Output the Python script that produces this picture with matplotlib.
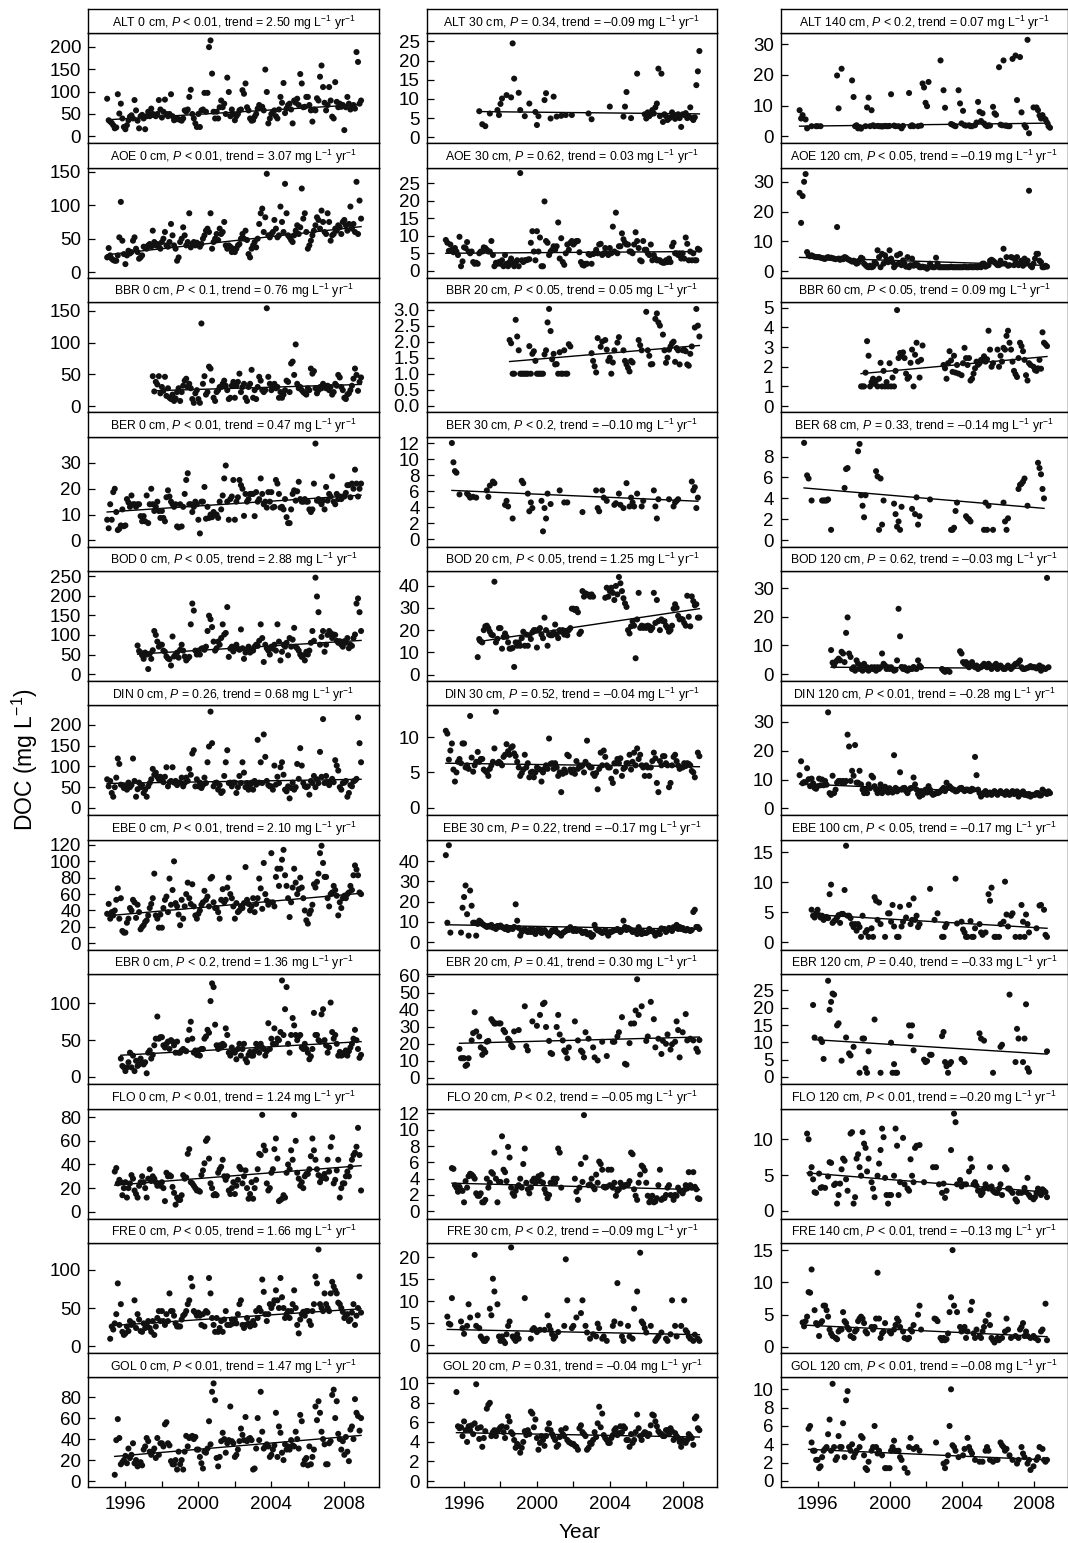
import matplotlib.pyplot as plt
import numpy as np

plt.rcParams["font.family"] = ["Liberation Sans", "DejaVu Sans"]
plt.rcParams["mathtext.fontset"] = "custom"
plt.rcParams["mathtext.rm"] = "Liberation Sans"
plt.rcParams["mathtext.it"] = "Liberation Sans:italic"

na = np.nan
FIRST_YEAR = 1995

# monthly DOC values (mg/L), one row per year 1995..2008, 12 months each
alt_0 = [
    [84, 36, 33, 30, 25, 18, 20, 94, 51, 73, 40, 21],
    [16, 25, 36, 44, 47, 40, 81, 58, 35, 18, 45, 48],
    [40, 16, 45, 55, 45, 62, 50, 48, 45, 50, 81, 60],
    [42, 55, 82, 50, 45, 50, 94, 45, 36, 38, 40, 38],
    [37, 35, 40, 58, 55, 60, 88, 104, 50, 40, 29, 21],
    [50, 21, 58, 60, 97, 55, 97, 199, 214, 140, 55, 40],
    [55, 40, 65, 80, 65, 73, 50, 131, 99, 45, 60, 50],
    [36, 45, 50, 58, 60, 103, 95, 118, 65, 58, 40, 35],
    [36, 44, 50, 62, 70, 65, 66, 58, 149, 99, 29, 40],
    [50, 55, 58, 45, 40, 60, 88, 75, 119, 52, 62, 70],
    [73, 60, 29, 80, 75, 84, 70, 139, 118, 65, 66, 88],
    [88, 70, 58, 33, 60, 58, 85, 80, 133, 158, 110, 75],
    [58, 70, 110, 80, 44, 40, 121, 77, 65, 73, 66, 70],
    [14, 65, 88, 73, 60, 66, 70, 62, 188, 166, 73, 80],
]
alt_30 = [
    [na, na, na, na, na, na, na, na, na, na, na, na],
    [na, na, na, na, na, na, na, na, na, na, 6.8, na],
    [3.4, na, 2.9, na, na, 6.2, na, na, na, na, 7.1, 5.8],
    [8.7, 10.1, na, na, 11.0, na, na, 10.4, 24.5, 15.3, na, na],
    [11.6, 7.1, na, na, 5.5, na, na, 8.8, na, na, na, 6.6],
    [3.2, 5.5, na, na, na, 9.7, 11.5, na, na, 4.9, na, 10.6],
    [na, 5.4, na, na, 5.6, na, na, 5.8, na, na, na, 5.8],
    [na, na, na, na, na, na, na, na, na, na, 6.2, na],
    [4.7, na, na, na, na, na, na, na, na, na, na, na],
    [8.0, na, na, na, na, na, na, na, na, 5.4, 8.0, 11.8],
    [na, na, 5.0, na, na, na, 16.6, na, na, na, na, 6.0],
    [4.9, 6.5, 5.5, 6.0, 7.1, 6.2, 7.8, 8.8, 17.9, 5.5, 16.6, 4.0],
    [6.0, 5.5, 4.5, 4.9, 5.2, 6.5, 5.8, 4.8, 5.8, 6.0, 5.0, 2.7],
    [6.0, 5.8, 6.3, 5.0, 5.4, 7.8, 5.0, 4.5, 5.2, 13.6, 17.2, 22.5],
]
alt_140 = [
    [8.5, 5.8, 6.9, na, 5.5, 2.6, na, na, 3.3, na, na, 3.3],
    [3.3, na, 3.3, na, na, na, na, na, na, na, na, na],
    [na, 19.8, 9.1, na, 22.0, na, na, na, na, na, na, 18.2],
    [12.8, 3.3, 3.6, 2.6, 3.0, 2.5, na, na, 3.3, 9.4, 12.6, 3.3],
    [8.5, 3.6, 3.3, na, 3.4, 3.3, 3.3, 3.2, 3.3, 3.4, 3.3, 3.3],
    [3.4, 13.7, na, 3.5, 3.3, na, 3.3, na, 2.6, 3.4, na, na],
    [na, 14.1, 3.3, 3.6, 3.3, na, na, 3.3, na, 3.5, 17.2, 15.9],
    [10.9, 9.8, 17.7, na, na, na, na, na, na, na, 24.7, na],
    [15.0, 9.3, na, na, na, 4.0, 3.8, 3.5, 3.3, na, 15.0, 10.7],
    [4.2, 8.3, 3.6, 3.5, na, 3.6, 3.3, 3.3, na, 3.6, 4.5, 11.2],
    [8.0, 5.0, 7.5, 4.2, 3.6, 3.3, 3.6, 3.5, na, 9.6, 7.5, 7.0],
    [na, 22.5, 3.8, 3.6, 24.7, 3.5, 3.5, 3.3, 3.3, na, 25.2, na],
    [26.3, 11.8, na, 25.8, 7.8, na, 3.6, 2.9, 31.4, 1.0, na, na],
    [9.4, na, 9.4, 8.5, 6.8, 5.8, 6.9, 5.8, 5.5, 4.5, 3.3, 2.8],
]
aoe_0 = [
    [22, 36, 25, 20, 18, 17, 17, 25, 52, 105, 47, 27],
    [12, 25, 32, 28, 30, 47, 52, 35, 30, 20, 22, 25],
    [38, 37, 35, 40, 42, 38, 62, 45, 40, 42, 38, 35],
    [45, 50, 60, 40, 38, 45, 72, 55, 40, 35, 17, 22],
    [45, 50, 67, 55, 40, 45, 88, 37, 42, 45, 40, 44],
    [42, 38, 42, 50, 55, 62, 65, 60, 88, 35, 45, 50],
    [57, 48, 65, 57, 60, 75, 40, 35, 40, 38, 30, 35],
    [30, 35, 40, 42, 50, 57, 50, 62, 48, 27, 22, 35],
    [40, 45, 37, 50, 72, 88, 95, 60, 82, 147, 55, 52],
    [57, 60, 78, 65, 52, 55, 98, 75, 60, 132, 88, 55],
    [52, 48, 45, 55, 62, 70, 57, 67, 125, 80, 88, 60],
    [35, 40, 47, 55, 62, 70, 82, 78, 65, 92, 75, 60],
    [57, 88, 75, 47, 55, 57, 65, 62, 70, 67, 57, 75],
    [78, 70, 62, 72, 98, 65, 72, 60, 135, 57, 107, 80],
]
aoe_30 = [
    [8.8, 8.0, 5.7, 7.5, 6.0, 5.3, 6.5, 5.5, 4.5, 9.7, 1.3, 2.7],
    [6.7, 6.5, 8.2, 5.5, 5.0, 5.5, 2.5, 2.0, 2.3, 2.0, 5.0, 5.5],
    [5.5, 6.7, 6.5, 6.0, 5.5, 5.5, 8.5, 4.5, 1.3, 2.3, 2.0, 2.5],
    [2.0, 3.0, 1.3, 4.5, 2.0, 1.3, 2.5, 3.5, 2.0, 1.3, 2.5, 3.0],
    [1.3, 27.9, 3.0, 2.5, 3.0, 3.0, 3.2, 3.3, 8.0, 11.3, 5.5, 3.0],
    [11.3, 5.5, 9.5, 1.3, 1.3, 19.8, 8.5, 8.0, 4.5, 5.5, 6.0, 7.0],
    [6.0, 7.0, 13.8, 3.5, 9.3, 2.5, 1.7, 5.0, 7.5, 6.0, 8.0, 8.5],
    [7.5, 8.0, 8.5, 8.5, 5.3, 2.5, 1.7, 1.5, 2.0, 2.0, 4.8, 4.5],
    [2.0, 4.8, 5.0, 6.0, 5.0, 7.5, 7.7, 4.5, 5.0, 6.5, 5.0, 4.5],
    [6.5, 5.0, 12.6, 5.5, 16.6, 5.0, 7.0, 7.0, 10.7, 9.0, 8.0, 7.5],
    [7.5, 5.5, 5.5, 5.0, 7.5, 11.0, 8.5, 6.5, 3.0, 2.7, 8.5, 6.0],
    [6.0, 5.0, 4.5, 7.5, 3.0, 4.5, 3.5, 3.0, 3.0, 3.0, 2.5, 2.3],
    [2.3, 3.0, 2.5, 3.5, 2.5, 7.0, 8.0, 5.0, 5.0, 4.5, 5.0, 3.5],
    [5.0, 3.5, 9.5, 7.7, 3.0, 5.5, 3.0, 5.0, 3.0, 3.0, 6.3, 6.0],
]
aoe_120 = [
    [26.3, 16.2, 25.2, 30.0, 32.6, 6.4, 5.3, 5.0, 5.3, 5.0, 4.8, 4.7],
    [4.7, 4.7, 4.5, 4.4, 4.2, 4.1, 4.5, 4.7, 4.4, 4.5, 4.3, 4.2],
    [4.0, 14.8, 4.2, 3.8, 4.2, 4.0, 4.7, 4.5, 4.0, 3.8, 3.5, 3.2],
    [3.5, 3.0, 2.5, 2.8, 3.6, 4.5, 4.2, 2.5, 2.0, 1.5, 1.3, 1.8],
    [1.3, 1.5, 3.0, 2.5, 7.0, 4.7, 1.3, 5.8, 2.5, 5.3, 4.0, 3.0],
    [7.0, 4.2, 3.0, 1.3, 2.0, 5.3, 2.5, 5.8, 2.0, 3.6, 2.5, 1.5],
    [4.7, 1.3, 2.0, 4.2, 1.8, 2.5, 2.0, 2.0, 1.3, 1.3, 1.5, 1.3],
    [1.3, 0.8, 1.3, 2.5, 1.5, 1.3, 1.3, 4.5, 2.5, 1.3, 1.3, 1.3],
    [1.3, 1.3, 1.3, 1.3, 1.3, 1.5, 1.3, 1.3, 1.3, 1.3, 1.3, 1.3],
    [1.3, 1.3, 1.5, 1.3, 1.3, 1.3, 1.5, 1.3, 1.3, 1.5, 1.3, 1.3],
    [1.8, 1.3, 2.5, 2.5, 1.5, 1.8, 2.0, 3.5, 3.8, 3.5, 3.0, 2.5],
    [2.0, 2.0, 3.5, 2.5, 7.5, 2.5, 4.7, 1.8, 2.0, 4.7, 4.5, 2.0],
    [3.5, 4.7, 2.0, 2.5, 3.5, 1.8, 4.2, 2.5, 3.5, 27.0, 1.8, 1.3],
    [2.5, 4.2, 5.8, 5.8, 3.5, 3.0, 1.3, 1.3, 1.8, 1.5, na, na],
]
bbr_0 = [
    [na, na, na, na, na, na, na, na, na, na, na, na],
    [na, na, na, na, na, na, na, na, na, na, na, na],
    [na, na, na, na, na, na, 47, 23, 38, 34, 47, 20],
    [30, 24, 46, 16, 28, 13, 11, 18, 8, 12, 22, 28],
    [8, 22, 32, 40, 43, 30, 35, 28, 11, 5, 20, 25],
    [11, 5, 130, 35, 47, 18, 22, 62, 59, 40, 13, 8],
    [22, 25, 30, 30, 35, 40, 32, 25, 11, 13, 32, 38],
    [13, 32, 38, 51, 22, 30, 35, 13, 8, 30, 35, 57],
    [13, 25, 11, 30, 46, 40, 25, 22, 25, 154, 46, 35],
    [25, 30, 35, 28, 30, 13, 22, 13, 18, 25, 40, 38],
    [22, 67, 70, 49, 97, 35, 28, 30, 25, 22, 20, 18],
    [28, 25, 59, 51, 55, 28, 20, 25, 30, 28, 35, 30],
    [28, 32, 25, 30, 18, 22, 35, 32, 49, 45, 30, 25],
    [13, 11, 18, 20, 25, 32, 43, 59, 49, 24, 38, 45],
]
bbr_20 = [
    [na, na, na, na, na, na, na, na, na, na, na, na],
    [na, na, na, na, na, na, na, na, na, na, na, na],
    [na, na, na, na, na, na, na, na, na, na, na, na],
    [na, na, na, na, na, na, 2.05, 1.95, 1.0, 1.0, 2.68, 2.16],
    [1.73, 1.0, 1.0, 1.0, 1.0, 1.0, 1.0, 1.86, 1.0, 1.62, 1.70, 1.4],
    [1.0, 1.0, 1.0, 1.0, 1.0, 1.6, 1.73, 2.6, 3.02, 2.33, 1.45, 1.62],
    [1.29, 1.3, 1.0, 1.67, 1.0, 1.0, 1.73, 1.0, 1.0, 1.92, 1.85, na],
    [na, na, na, na, na, na, na, na, na, na, na, na],
    [1.64, 1.4, 1.23, 1.04, 2.11, na, 1.84, 2.0, na, 2.05, 1.75, 1.4],
    [1.5, 1.0, 1.35, 1.73, na, 1.97, 2.14, na, na, 1.73, 1.4, 1.29],
    [1.18, 1.07, 1.4, 1.35, na, na, na, 2.05, 1.89, 1.73, na, na],
    [2.93, 1.73, 1.56, 1.29, 1.3, na, 2.71, 2.88, 2.6, 2.5, na, 2.22],
    [1.73, 1.34, 1.5, 1.75, 1.85, 1.95, 2.0, 1.37, 1.8, 1.73, 1.29, na],
    [1.73, 1.75, 1.7, 1.29, 1.25, 1.62, 1.85, na, 2.44, 3.02, 2.5, 2.16],
]
bbr_60 = [
    [na, na, na, na, na, na, na, na, na, na, na, na],
    [na, na, na, na, na, na, na, na, na, na, na, na],
    [na, na, na, na, na, na, na, na, na, na, na, na],
    [na, na, na, na, na, 1.0, 1.0, 1.0, 1.7, 3.3, 2.56, 1.0],
    [1.22, 1.39, 1.13, 1.3, 1.0, 1.39, 2.2, 1.0, 1.79, 1.0, 1.22, 1.0],
    [2.18, 1.0, 1.45, 1.0, 1.79, 4.88, 2.44, 2.7, 2.56, 2.73, 2.44, 1.65],
    [1.39, 1.48, 2.2, 2.87, 1.0, 2.61, 3.22, 2.26, 1.45, 2.35, 3.08, na],
    [na, na, na, na, na, na, na, na, na, na, na, na],
    [2.09, 1.92, 1.39, 2.18, 2.79, 2.32, 1.74, 2.56, 1.7, 2.09, 1.65, na],
    [1.57, 2.18, 2.96, 2.44, 2.09, 2.44, 1.3, 1.39, 1.65, 1.92, 2.26, 2.1],
    [2.18, 2.35, 2.32, 2.53, 2.26, 2.38, 3.83, 2.87, 2.0, 2.18, na, na],
    [2.87, 2.0, 2.56, 2.26, 2.96, 2.87, 3.57, 3.83, 3.22, 2.87, 2.26, 1.79],
    [1.62, 1.48, 2.44, 3.22, 3.05, 2.79, 2.35, 1.57, 1.3, 2.18, 2.09, na],
    [2.0, 1.83, 1.79, 1.92, 2.35, 1.9, 3.75, 3.22, 3.14, 3.05, na, na],
]
ber_0 = [
    [8, 4.7, 14, 8, 18.7, 20, 11, 4, 4.5, 5.8, 12, 5.5],
    [5.8, 16, 14.7, 13, 17.4, 14, 14, 13, 14, 14, 9.4, 7.4],
    [9.4, 7.4, 17.4, 6.7, 14, 20, 14, 11.4, 13, 15, 11.4, 8.7],
    [11.4, 8.7, 7.4, 16.7, 19.4, 17, 15, 14, 13, 14, 5.4, 5],
    [14, 5.4, 13, 18, 23.4, 26, 14, 14, 11, 13, 15, 14],
    [8, 2.7, 15, 15, 20.7, 8.4, 13, 8.7, 10, 9, 11, 10],
    [10, 8.7, 15, 12, 17.4, 24, 29, 15, 8, 16, 17, 23.4],
    [8, 15, 16.7, 23.4, 21.4, 20, 9.5, 18, 15, 16, 18, 18],
    [18, 9.4, 18.7, 15, 16, 24, 18, 14, 15, 12.7, 18.7, 15],
    [18.7, 12.7, 13, 23.4, 22, 18, 12.7, 13, 12, 16, 9, 6.7],
    [6.7, 12, 18, 19.4, 15.4, 19, 22.7, 16, 15, 15, 16, 15],
    [15, 12, 11, 12, 22, 37.5, 15.4, 16, 15, 14, 15.4, 12],
    [20.7, 15.4, 18, 17, 24.8, 15, 14, 18, 16, 17, 16, 17],
    [17, 18.4, 21.4, 21.4, 16.7, 22, 20, 27.4, 22, 17, 20, 22],
]
ber_30 = [
    [na, na, na, na, 12.0, 9.6, 8.5, 8.3, na, 5.6, na, na],
    [na, na, 5.7, 5.5, 5.2, na, 5.3, na, 5.2, na, na, na],
    [na, na, na, 6.1, 5.3, 6.7, na, 7.2, 7.0, na, na, na],
    [na, na, na, 4.3, 4.8, 4.1, na, na, 2.6, na, na, na],
    [na, na, 7.3, 7.0, na, na, 5.7, 3.5, 4.6, 3.9, na, na],
    [na, na, na, 4.8, 1.0, 3.9, 2.6, 5.7, na, 4.4, na, na],
    [na, na, na, 6.1, na, na, 4.6, na, 4.6, na, na, na],
    [na, na, na, na, na, na, 3.4, na, na, na, na, na],
    [na, na, na, 6.1, 3.9, 3.5, na, 6.1, 5.2, na, 4.8, na],
    [na, na, na, 4.3, 4.5, na, 5.7, 4.3, na, 3.9, na, 7.0],
    [na, 4.1, 5.2, 4.6, 4.1, na, 5.7, na, na, 4.1, 4.8, na],
    [na, na, na, na, na, 6.1, 4.1, 2.6, 5.0, na, na, na],
    [na, na, na, 5.0, na, na, 4.1, 4.6, 4.8, 5.0, na, na],
    [na, na, na, na, na, na, 7.2, 6.1, 6.5, 3.9, 5.2, na],
]
ber_68 = [
    [na, na, na, 9.3, na, 6.2, 5.9, na, 3.8, na, na, na],
    [na, na, na, 3.8, 3.8, 3.8, 3.8, 3.9, na, 1.0, na, na],
    [na, na, na, na, na, na, 5.0, 6.8, 6.9, na, na, na],
    [na, na, na, 8.5, 9.2, 4.3, 3.3, 2.2, 4.3, na, na, na],
    [na, na, na, 6.6, 6.1, 1.0, 5.9, 1.5, 3.8, na, na, na],
    [na, na, na, 3.5, 2.5, 1.3, 1.8, 1.0, 3.2, na, na, na],
    [na, na, na, 3.0, na, 2.5, 4.1, 1.5, 2.3, na, na, na],
    [na, na, na, 3.9, na, na, na, na, na, na, na, na],
    [na, na, na, na, na, 1.0, 1.0, 1.2, 2.8, 3.6, na, na],
    [na, na, na, 2.3, 2.1, 2.0, 1.8, na, na, na, na, na],
    [na, na, na, 1.0, 3.6, 1.0, 3.3, na, na, 1.0, na, na],
    [na, na, na, na, 3.6, 1.8, 1.0, 2.1, na, na, na, na],
    [na, na, 4.9, 5.3, 5.4, 5.6, 5.9, na, 3.3, na, na, na],
    [na, na, na, 7.4, 6.9, 6.3, 4.9, 4.0, na, na, na, na],
]
bod_0 = [
    [na, na, na, na, na, na, na, na, na, na, na, na],
    [na, na, na, na, na, na, na, na, 73, 59, 55, 48],
    [39, 55, 50, 13, 52, 39, 61, 110, 100, 83, 70, 75],
    [75, 60, 57, 45, 40, 38, 22, 96, 45, 50, 55, 42],
    [62, 75, 60, 45, 35, 40, 44, 127, 180, 162, 60, 50],
    [60, 50, 65, 66, 62, 70, 110, 149, 140, 120, 83, 60],
    [66, 83, 75, 92, 127, 101, 105, 171, 44, 65, 70, 58],
    [70, 75, 65, 62, 114, 66, 39, 55, 60, 70, 55, 60],
    [60, 70, 75, 72, 85, 127, 92, 31, 75, 66, 60, 50],
    [70, 65, 75, 60, 127, 83, 35, 57, 75, 70, 80, 48],
    [92, 70, 88, 118, 70, 66, 60, 50, 44, 48, 35, 57],
    [50, 60, 80, 110, 85, 246, 198, 158, 75, 95, 110, 57],
    [75, 100, 110, 105, 92, 101, 100, 85, 80, 84, 75, 70],
    [84, 80, 92, 66, 75, 72, 92, 101, 180, 193, 158, 110],
]
bod_20 = [
    [na, na, na, na, na, na, na, na, na, na, na, na],
    [na, na, na, na, na, na, na, na, na, 7.9, 16, 15],
    [14.5, 20, 21.7, 22, 20.9, 19.3, 18, 17.7, 41.7, 14.5, 16.1, 20.9],
    [20.9, 11.7, 16.9, 18.5, 17, 14.5, 11.7, 11.7, 12, 3.5, 14.5, 13],
    [14.5, 13, 16.4, 19.3, 13, 18, 13, 17.7, 16, 19, 20, 20],
    [12.2, 20, 20.9, 18, 16.4, 25.6, 20, 13, 18, 17.7, 17.7, 19],
    [22.5, 18, 16.4, 20, 19.3, 20, 18, 19.3, 17.7, 20, 20.9, 29.6],
    [29.6, 29, 29.5, 28, 18.3, 19.3, 37.5, 35, 36.5, 35.9, 35.9, 35],
    [36, 35, na, na, na, na, na, na, na, 34.5, 39, 35],
    [37.5, 39, 36.7, 33.5, 39.8, 36, 43.8, 41, 37.5, 34.3, 32, 30.4],
    [20, 18.5, 21.7, 24, 22, 7.4, 24.8, 36.7, 21, 22, 21, 21.7],
    [21, 22, 21.7, 20, 21, 36.7, 23.2, 33.5, 24, 20, 24.8, 24],
    [24, 22, 21, 19.3, 20, 22, 29.6, 31.6, 30, 26.4, 24.8, 25],
    [24.8, 23.2, 22, 35.4, 26, 21.7, 35.1, 33, 31.1, 31.6, 25.6, 25.6],
]
bod_120 = [
    [na, na, na, na, na, na, na, na, na, na, na, na],
    [na, na, na, na, na, na, na, na, na, 8.4, 4.0, 3.0],
    [4.2, 4.8, 5.4, 4.8, 7.8, 7.2, 4.2, 14.4, 19.8, 7.2, 6.0, 1.8],
    [2.4, 1.2, 4.8, 3.6, 1.8, 3.0, 1.2, 3.6, 1.8, 2.4, 1.2, 1.8],
    [2.4, 1.8, 2.4, 1.2, 2.4, 1.8, 2.4, 7.2, 3.6, 3.0, 1.8, 2.4],
    [1.8, 2.4, 1.8, 1.2, 1.5, 4.8, 22.8, 13.2, 2.5, 1.8, 2.4, 1.5],
    [1.2, 2.0, 1.8, 1.8, 2.5, 2.0, 1.8, 4.8, 3.0, 2.4, na, na],
    [na, na, na, na, na, na, na, na, na, na, na, 1.8],
    [1.2, 0.8, 1.2, 1.2, 0.8, na, na, na, na, na, na, 8.0],
    [7.2, 4.2, 3.6, 4.2, 3.0, 2.4, 3.6, 4.2, 3.0, 2.4, 3.0, 1.8],
    [2.4, 2.4, 3.0, 3.6, 3.0, 2.4, 3.6, 3.0, 1.8, 2.4, 3.0, 3.6],
    [1.8, 2.4, 3.0, 2.4, 1.8, 1.8, 2.4, 3.0, 2.4, 1.8, 2.4, 3.0],
    [3.6, 3.6, 4.2, 4.8, 2.4, 1.8, 1.8, 2.0, 2.2, 2.4, 2.8, 2.4],
    [2.4, 2.4, 2.0, 2.4, 3.0, 1.2, 2.4, 2.0, 1.8, 33.6, 2.4, na],
]
din_0 = [
    [69, 52, 65, 36, 27, 50, 73, 119, 106, 56, 55, 48],
    [52, 44, 61, 50, 55, 119, 65, 27, 45, 61, 50, 55],
    [36, 44, 27, 52, 60, 69, 94, 80, 85, 75, 69, 75],
    [69, 62, 75, 98, 52, 62, 65, 98, 61, 65, 55, 61],
    [61, 73, 52, 60, 73, 65, 94, 80, 131, 139, 52, 69],
    [52, 61, 48, 55, 73, 60, 110, 148, 232, 156, 52, 60],
    [61, 44, 55, 36, 40, 77, 110, 139, 60, 61, 52, 61],
    [61, 36, 50, 77, 60, 110, 85, 50, 60, 44, 55, 61],
    [44, 65, 56, 164, 61, 110, 60, 177, 123, 65, 55, 52],
    [52, 44, 102, 56, 75, 60, 98, 110, 80, 44, 40, 52],
    [23, 48, 61, 44, 50, 106, 70, 144, 102, 60, 52, 50],
    [52, 32, 65, 60, 77, 50, 69, 60, 135, 75, 214, 60],
    [77, 61, 55, 65, 70, 62, 115, 102, 90, 50, 44, 60],
    [61, 65, 27, 36, 55, 52, 64, 66, 70, 218, 156, 110],
]
din_30 = [
    [10.9, 10.5, 6.8, 8.1, 9.1, 5.4, 3.7, 5.0, 6.5, 6.9, 6.3, 9.1],
    [9.1, 5.7, 6.0, 5.5, 13.0, 7.1, 5.1, 6.0, 6.5, 7.9, 6.5, 6.9],
    [6.9, 5.4, 5.2, 5.0, 4.5, 5.5, 6.0, 6.5, 8.4, 13.6, 6.3, 6.5],
    [6.3, 6.0, 7.2, 7.5, 9.0, 8.0, 7.5, 8.5, 8.7, 7.7, 7.3, 6.5],
    [5.7, 4.5, 4.9, 5.4, 7.5, 5.7, 6.3, 4.3, 5.0, 5.1, 4.3, 5.0],
    [5.7, 5.5, 5.4, 3.7, 5.0, 5.5, 6.0, 5.5, 9.8, 6.2, 6.3, 5.5],
    [6.3, 5.7, 4.5, 5.0, 2.2, 4.8, 5.4, 5.0, 7.5, 7.3, 5.4, 5.0],
    [5.4, 4.8, 6.6, 5.5, 6.0, 5.8, 6.0, 5.0, 6.5, 9.5, 6.0, 5.7],
    [5.7, 4.8, 4.5, 4.9, 2.6, 5.5, 7.8, 6.0, 8.1, 7.2, 6.0, 5.7],
    [5.7, 4.1, 3.5, 6.3, 5.1, 6.9, 6.3, 7.0, 4.5, 5.5, 5.7, 6.3],
    [6.3, 7.5, 5.4, 6.5, 7.8, 6.0, 8.4, 6.9, 7.5, 6.0, 5.7, 4.5],
    [6.0, 5.7, 4.5, 5.7, 6.6, 7.8, 7.0, 3.5, 2.2, 6.6, 6.0, 7.3],
    [7.3, 6.3, 6.0, 2.9, 3.5, 6.0, 7.2, 7.5, 6.6, 6.0, 5.5, 5.7],
    [5.7, 6.3, 5.9, 6.3, 6.2, 6.0, 5.2, 5.0, 4.3, na, 7.8, 7.3],
]
din_120 = [
    [11.5, 16.3, 8.7, 9.1, 9.0, 13.9, 10.1, 7.7, 10.3, 8.7, 7.1, 6.8],
    [7.7, 10.3, 8.0, 10.0, 8.0, 9.5, 8.2, 33.2, 5.3, 4.7, 11.3, 5.3],
    [6.5, 8.9, 9.5, 9.5, 9.0, 9.5, 8.9, 9.5, 25.5, 21.4, 9.5, 13.0],
    [11.3, 21.9, 8.9, 8.9, 13.0, 8.3, 6.5, 5.3, 6.5, 5.3, 8.3, 7.0],
    [11.3, 10.7, 7.7, 6.5, 5.3, 6.5, 8.3, 5.3, 6.5, 7.5, 6.0, 5.5],
    [7.0, 6.0, 5.5, 18.4, 7.1, 5.9, 6.5, 12.5, 6.5, 7.0, 7.1, 6.0],
    [5.3, 6.5, 7.0, 7.1, 10.7, 8.3, 6.5, 5.0, 4.1, 5.9, 4.7, 5.5],
    [6.5, 5.5, 7.7, 6.5, 5.3, 4.7, 5.0, 5.3, 5.3, 5.5, 6.0, 6.5],
    [7.1, 6.0, 8.9, 7.1, 7.7, 7.1, 6.5, 6.5, 5.9, 6.0, 6.5, 7.0],
    [7.1, 6.5, 6.0, 6.5, 6.5, 6.2, 6.0, 6.8, 6.5, 17.8, 11.5, 6.5],
    [5.3, 4.1, 4.7, 5.5, 6.0, 4.7, 5.3, 5.5, 4.7, 5.2, 6.0, 5.3],
    [4.7, 5.5, 6.0, 5.3, 5.3, 4.7, 5.9, 5.0, 4.7, 5.5, 6.0, 5.0],
    [5.3, 5.9, 4.1, 5.3, 5.0, 5.9, 4.7, 5.0, 4.5, 5.0, 4.1, 4.7],
    [4.7, 4.7, 5.3, 5.3, 4.5, 4.5, 6.5, 5.9, 5.3, 5.0, 5.9, 5.3],
]
ebe_0 = [
    [36, 48, 30, 38, 34, 40, 53, 67, 30, 55, 15, 13],
    [13, 25, 30, 43, 40, 53, 50, 31, 47, 38, 17, 20],
    [22, 26, 28, 34, 43, 48, 55, 85, 34, 30, 19, 35],
    [19, 43, 53, 57, 38, 79, 47, 65, 100, 49, 45, 35],
    [22, 53, 30, 45, 60, 74, 55, 48, 72, 45, 34, 30],
    [36, 40, 47, 50, 64, 53, 57, 45, 79, 81, 50, 43],
    [43, 38, 30, 53, 66, 50, 53, 68, 80, 60, 55, 45],
    [30, 49, 38, 40, 45, 43, 49, 93, 53, 48, 40, 45],
    [55, 38, 48, 55, 79, 67, 42, 98, 60, 52, 47, 50],
    [110, 50, 45, 81, 91, 70, 91, 102, 114, 83, 70, 55],
    [32, 50, 68, 91, 74, 60, 66, 80, 68, 55, 40, 28],
    [24, 36, 40, 47, 72, 68, 75, 85, 110, 119, 98, 81],
    [81, 55, 45, 60, 62, 70, 65, 58, 34, 50, 43, 55],
    [58, 55, 60, 62, 70, 65, 83, 95, 90, 83, 62, 60],
]
ebe_30 = [
    [43, 9.6, 47.9, 4.7, na, na, na, na, na, na, 4.7, 17],
    [22.3, 28, 13.8, 3.2, 25.5, 18, 9.6, 9.6, 3.2, 9, 10.6, 10],
    [9, 8.5, 8, 7.5, 8, 7.7, 8.5, 7.2, 7.5, 6.5, 8, 7.5],
    [8.2, 7.5, 7.0, 6.5, 7.5, 6.0, 7.0, 6.8, 6.5, 7.5, 18.7, 10.6],
    [7.0, 3.2, 5.0, 6.0, 6.5, 5.5, 5.0, 6.0, 5.0, 6.5, 5.0, 4.0],
    [6.0, 5.5, 6.5, 4.5, 5.5, 6.0, 5.0, 4.0, 3.2, 4.5, 5.8, 5.5],
    [6.5, 5.0, 4.5, 4.0, 3.2, 4.5, 5.0, 5.5, 6.5, 6.0, 7.4, 6.5],
    [5.5, 6.5, 5.5, 6.0, 5.8, 5.5, 4.5, 5.0, 5.2, 4.0, 3.8, 4.5],
    [2.6, 3.5, 8.5, 6.5, 5.8, 6.0, 5.0, 4.5, 5.0, 6.0, 4.5, 3.2],
    [5.0, 5.0, 5.5, 5.8, 6.0, 6.5, 6.0, 5.0, 5.8, 10.6, 7.5, 6.0],
    [7.0, 6.5, 6.0, 5.0, 5.5, 5.5, 4.0, 7.4, 6.0, 4.0, 5.0, 4.5],
    [4.5, 5.0, 6.5, 5.5, 5.5, 4.8, 3.2, 4.0, 5.0, 4.0, 6.8, 6.5],
    [6.5, 5.0, 5.8, 7.0, 6.5, 5.5, 7.4, 7.0, 8.5, 6.5, 7.5, 6.5],
    [7.0, 6.0, 5.8, 6.5, 6.0, 5.5, 6.0, 14.9, 16, 7.5, 7.5, 6.5],
]
ebe_100 = [
    [na, na, na, na, na, na, na, na, 5.4, 4.4, 4.1, 4.8],
    [5.4, 4.5, 4.1, 4.4, 3.7, 4.0, 4.2, 4.0, 8.0, 9.6, 3.2, 3.5],
    [3.7, 4.1, 4.5, 3.2, 4.7, 4.7, 8.7, 16.1, 4.4, 4.4, 4.0, 3.0],
    [2.5, 3.0, 1.9, 3.0, 2.5, 0.86, 4.4, na, 1.6, 2.0, 0.86, na],
    [2.3, 0.86, 7.5, 6.9, 3.7, 6.6, 3.0, na, na, 0.86, na, 4.8],
    [4.8, 3.4, 6.2, 2.6, na, 0.86, 0.86, 5.9, 2.6, 3.4, na, 4.1],
    [na, 6.2, 3.0, 3.7, 7.3, 3.7, 4.4, 2.5, 3.0, na, na, na],
    [na, na, na, 8.9, na, na, 3.7, na, 4.8, na, na, 0.86],
    [0.86, 2.5, 3.0, na, na, na, na, na, 10.6, 3.1, na, na],
    [3.4, 2.1, 1.6, 0.86, 0.86, na, 3.5, 0.86, 0.86, 2.3, na, na],
    [3.0, 1.6, 1.2, na, 1.6, na, 8.0, 6.9, 9.1, na, 0.86, 0.86],
    [na, 0.86, 3.0, na, 3.4, 10.1, 4.6, 2.6, na, 4.4, 4.8, na],
    [0.86, na, na, 0.86, 6.2, 3.4, 0.86, 4.6, 3.0, 1.6, na, na],
    [na, na, 2.3, na, 6.1, 6.2, na, 5.4, 1.2, 0.86, na, na],
]
ebr_0 = [
    [na, na, na, na, na, na, na, na, na, 25, 15, 13],
    [8, 13, 20, 33, 13, 29, 8, 22, 15, 17, 25, 20],
    [17, 20, 5, 33, 36, 25, 30, 43, 52, 82, 52, 54],
    [54, 43, 40, 45, 48, 38, 50, 48, 43, 33, 48, 33],
    [33, 36, 38, 36, 35, 50, 64, 75, 52, 33, 36, 30],
    [36, 29, 38, 38, 52, 55, 64, 60, 103, 127, 122, 71],
    [43, 38, 43, 40, 45, 43, 66, 57, 33, 29, 40, 35],
    [33, 24, 38, 45, 29, 38, 45, 24, 20, 30, 34, 29],
    [29, 35, 45, 40, 33, 45, 40, 38, 29, 35, 73, 38],
    [52, 45, 66, 45, 52, 50, 61, 131, 57, 92, 122, 45],
    [33, 57, 80, 70, 57, 50, 55, 57, 40, 38, 45, 38],
    [33, 24, 28, 38, 87, 57, 57, 50, 48, 85, 92, 50],
    [43, 33, 40, 101, 61, 52, 57, 45, 29, 34, 29, 30],
    [33, 36, 29, 35, 40, 45, 52, 64, 50, 38, 26, 30],
]
ebr_20 = [
    [na, na, na, na, na, na, na, na, na, 17, 11.5, 11.5],
    [11.5, 7, 7.7, 11.5, na, 22, 26.3, 38.6, 27.3, na, 24.3, 17.9],
    [13.5, 16.6, 15, 21.2, 21.7, na, 34.5, 33.2, 31.9, 32, na, 32],
    [32, na, 28.1, 26.8, na, 23, 22, 19.1, 18, 27.3, na, na],
    [28.1, na, na, na, 42.1, 18.6, 16.1, na, na, 33.2, na, na],
    [30.6, na, 37, na, 43.4, 44.2, 29.9, na, 21.7, 14.6, 14, na],
    [na, 29.9, 37, 25.5, na, 22, 16.1, 15, 11.5, 17.9, na, na],
    [na, 33.2, na, 22, na, 16, 15, 12, 26.8, na, 23, na],
    [na, 17.9, 12, na, 10.2, na, na, 21.2, na, na, 12.8, na],
    [na, na, 21.2, 21.2, na, 24.3, 26.8, na, 35.7, na, 8.2, 7.7],
    [na, 20.4, 31.9, na, 32, 39.6, 58, 37, na, 42.1, na, na],
    [21.7, 24.3, na, 44.7, na, 34.5, 17.9, na, 23, na, 14, 21.7],
    [na, 20, 25.5, na, 16.6, 19.7, na, 21.2, 33.2, 28.1, 12, na],
    [26.8, na, 37.5, 22, na, 23, na, 22, na, 17.1, 15.3, 22.2],
]
ebr_120 = [
    [na, na, na, na, na, na, na, na, na, 20.8, 11.4, na],
    [na, na, 10.9, 10.1, 5.2, na, na, 27.8, 19.4, 21.7, 24.1, 23.8],
    [na, 14.9, 15.5, na, 4.7, na, na, 11.4, na, 6.8, 6.2, na],
    [8.7, na, na, na, 1.2, na, 11.1, 11.1, 2.5, 1.2, 7.4, na],
    [na, na, 16.6, na, na, na, 1.2, na, na, na, na, na],
    [na, 9.9, 1.2, 3.7, 1.2, 1.2, na, na, na, na, na, na],
    [na, 14.9, 11.8, 14.9, 7.7, na, na, na, na, na, na, 5.0],
    [4.3, 4.6, na, 6.4, 6.4, na, na, na, na, na, na, 11.8],
    [13.0, 4.3, 3.1, 1.2, 3.7, 4.3, na, na, na, na, na, na],
    [5.2, 5.0, 4.3, na, na, na, na, na, na, na, na, na],
    [12.6, 11.1, na, 10.5, na, na, na, na, na, 1.2, na, na],
    [na, na, 8.7, 9.3, na, na, na, na, 23.8, na, na, na],
    [4.3, 13.9, 11.1, na, na, 4.3, 11.1, 21.0, 2.5, 1.5, na, na],
    [na, na, na, na, na, na, na, na, na, 7.4, na, na],
]
flo_0 = [
    [na, na, na, na, na, 34, 37, 24, 27, 25, 14, 20],
    [25, 12, 20, 24, 31, 28, 18, 15, 12, 22, 25, 30],
    [25, 20, 12, 28, 36, 26, 30, 28, 25, 22, 24, 22],
    [25, 20, 9, 33, 30, 31, 30, 21, 16, 6, 12, 10],
    [10, 14, 31, 28, 29, 49, 53, 25, 24, 22, 20, 18],
    [18, 17, 31, 35, 41, 60, 62, 45, 24, 20, 14, 15],
    [14, 33, 36, 38, 44, 30, 27, 30, 18, 15, 20, 25],
    [15, 22, 27, 38, 36, 24, 30, 35, 20, 11, 15, 25],
    [11, 20, 27, 36, 49, 48, 82, 56, 52, 24, 18, 20],
    [33, 36, 53, 62, 45, 9, 10, 11, 14, 12, 33, 40],
    [36, 52, 44, 82, 60, 33, 28, 22, 25, 20, 30, 32],
    [32, 36, 47, 62, 52, 44, 36, 31, 25, 28, 30, 32],
    [28, 44, 34, 55, 63, 24, 27, 35, 44, 12, 20, 24],
    [24, 30, 34, 30, 38, 44, 48, 50, 55, 71, 48, 18],
]
flo_20 = [
    [na, na, na, na, 5.3, 5.2, 3.2, 2.9, 2.4, 3.0, 2.6, 2.5],
    [1.1, 3.7, 2.9, 4.3, 4.6, 4.5, 4.3, 4.0, 2.2, 1.9, 1.9, 2.2],
    [1.1, 1.1, 1.4, 4.0, 2.9, 3.5, 4.8, 4.6, 7.2, 4.0, 1.1, 3.6],
    [3.6, 9.2, 5.1, 4.8, 3.7, 7.9, 6.6, 2.9, 2.2, 1.9, 2.5, 3.0],
    [3.2, 4.0, 2.9, 5.8, 7.7, 3.5, 2.7, 2.2, 2.9, 3.7, 4.0, 3.5],
    [4.0, 4.3, 3.7, 4.5, 3.5, 2.7, 2.2, 1.6, 2.0, 3.5, 3.5, 4.0],
    [3.5, 4.0, 7.7, 7.2, 2.9, na, na, na, na, na, na, na],
    [na, 4.0, 2.4, 1.4, 2.9, 5.8, 3.6, 11.8, 6.6, na, 3.2, 3.3],
    [4.0, 3.0, 2.7, 4.5, 3.5, 6.1, 5.8, 5.1, 3.0, 2.9, 3.0, 5.1],
    [3.2, 5.1, 2.9, 3.5, 1.9, 2.5, 2.7, 3.5, 3.2, 3.0, 3.2, 3.2],
    [3.3, 3.7, 7.2, 7.0, 2.7, 1.9, 1.4, 3.5, 4.5, 5.6, 5.4, 5.0],
    [3.5, 1.9, 1.1, 1.4, 1.9, 1.1, 1.2, 1.6, 3.2, 5.1, 1.4, 1.6],
    [1.6, 2.0, 2.9, 3.2, 2.0, 1.9, 1.4, 2.0, 1.9, 2.9, 2.5, 2.5],
    [2.2, 2.6, 3.2, 2.8, 4.8, 3.2, 2.9, 4.8, 3.0, 2.7, 1.6, 1.5],
]
flo_120 = [
    [na, na, na, na, na, 10.8, 10.0, 5.2, 6.1, 4.4, 2.6, 2.5],
    [na, 5.2, 3.2, 3.3, na, 3.2, na, 4.8, 6.8, 6.7, na, 3.6],
    [3.8, 1.0, 2.2, 3.8, 5.8, 7.3, 7.0, 4.4, 2.8, na, 10.8, 11.0],
    [1.0, 1.9, 7.3, 7.9, 6.1, 4.9, 11.0, 9.4, 8.8, 5.5, 7.3, na],
    [4.0, 3.1, 1.9, na, 4.9, 6.6, 8.5, 11.5, 10.3, 4.6, 2.2, 1.0],
    [2.2, 2.2, na, 4.9, 11.5, 9.1, 2.2, 4.0, na, 10.2, 3.7, na],
    [3.1, 2.8, 7.2, 4.9, 4.0, 8.8, 9.1, na, 9.2, na, na, 4.0],
    [na, na, na, na, na, 6.1, na, 6.1, na, 3.7, na, 2.5],
    [3.8, 1.8, 2.8, na, na, 8.5, na, 13.6, 12.4, 3.7, na, 4.3],
    [3.4, 3.7, na, 3.7, na, 5.5, 7.3, 6.1, 3.7, 4.0, 3.5, 2.8],
    [2.8, 2.2, 2.5, 3.1, 3.7, 3.3, 3.1, 6.1, 3.4, 2.8, 2.6, 2.5],
    [2.5, 3.1, 3.7, 2.2, na, 6.1, 5.8, 3.1, 3.1, 2.8, 2.5, na],
    [1.6, 1.3, 2.5, na, 2.5, na, 3.2, 2.6, 4.6, 2.2, 1.9, na],
    [1.6, 1.9, 2.5, 3.1, 2.5, 2.2, 3.0, 2.8, 2.6, 1.9, na, na],
]
fre_0 = [
    [na, na, 10, 26, 22, 30, 42, 82, 28, 55, 19, 15],
    [17, 26, 20, 33, 28, 30, 60, 24, 42, 35, 20, 19],
    [30, 24, 28, 33, 24, 19, 33, 15, 26, 37, 46, 33],
    [46, 33, 28, 42, 33, 69, 46, 46, 40, 30, 26, 26],
    [26, 35, 40, 42, 46, 55, 60, 89, 78, 46, 44, 40],
    [44, 40, 28, 42, 26, 46, 44, 89, 69, 37, 28, 19],
    [37, 19, 24, 33, 19, 35, 46, 28, 28, 28, 35, 30],
    [35, 30, 42, 55, 60, 28, 24, 28, 37, 30, 26, 28],
    [33, 28, 46, 37, 50, 46, 87, 71, 42, 33, 42, 55],
    [50, 55, 60, 73, 60, 50, 89, 64, 50, 37, 42, 46],
    [37, 46, 55, 73, 50, 28, 17, 35, 42, 45, 40, 46],
    [46, 33, 28, 46, 55, 91, 82, 126, 55, 50, 46, 69],
    [55, 50, 46, 69, 84, 78, 73, 69, 57, 55, 50, 45],
    [37, 40, 42, 33, 35, 44, 55, 28, 40, 50, 91, 44],
]
fre_30 = [
    [na, 6.5, 4.9, 4.7, 10.7, na, na, na, na, na, 5.4, 3.9],
    [2.6, na, 4.4, 9.3, 6.3, na, na, 20.5, 4.4, 6.8, 3.9, 2.0],
    [1.5, 1.0, 1.0, 1.5, na, 8.3, 6.8, 15.1, 12.2, na, 9.3, 2.0],
    [1.0, 2.0, 1.0, 0.5, 2.5, 4.4, 5.4, 22.2, 2.0, 1.5, 1.0, 2.5],
    [1.5, na, na, na, 10.7, na, na, na, 1.5, 3.5, 3.9, 3.5],
    [3.0, na, 3.5, na, na, 3.5, na, 6.8, 4.4, 3.5, 2.5, 1.5],
    [2.0, na, 3.0, na, na, na, 4.4, 19.5, 10.2, na, na, 3.9],
    [4.4, na, 6.3, na, na, 7.3, 10.2, na, 4.4, 2.9, na, 1.5],
    [na, 2.5, na, 2.0, 4.9, 3.9, na, 1.5, 2.0, na, 1.0, na],
    [na, na, 4.4, 5.4, na, 14.1, na, 4.9, 2.0, 1.0, na, na],
    [4.4, 2.0, na, 1.5, 8.3, na, 12.2, na, 21.0, 5.4, 4.9, 3.9],
    [2.9, na, na, 4.4, na, na, 1.0, 1.5, 2.0, na, 2.9, na],
    [na, 1.5, 1.0, na, 2.5, 10.2, na, 4.4, 2.0, na, na, 4.4],
    [na, 10.2, 3.4, 2.9, 2.0, 1.5, na, 1.0, 2.4, na, 1.5, 1.0],
]
fre_140 = [
    [na, na, 3.8, 3.2, 4.0, 4.7, 8.5, 8.4, 12.0, na, 5.7, 3.7],
    [3.4, 1.7, 3.7, 4.0, 6.4, 6.4, 5.7, 4.7, 2.7, 2.1, 1.7, na],
    [1.4, 1.2, 2.4, 2.7, 2.7, 5.4, 4.0, 3.7, 3.0, 2.7, 1.7, na],
    [1.4, 2.4, 2.7, 4.0, 4.4, 4.7, 4.4, 3.7, 2.4, 2.1, na, na],
    [3.1, 2.7, 3.1, 4.4, 11.5, 4.4, 1.4, 2.1, 2.4, 3.7, na, na],
    [2.4, 2.1, na, 2.7, 3.4, 4.4, 4.0, 3.1, na, 2.4, 1.4, na],
    [1.2, 1.4, 2.7, 2.4, 3.4, na, na, 5.0, 6.4, 2.7, na, na],
    [na, na, na, na, na, na, 4.4, 4.3, 4.0, na, 1.4, 1.05],
    [1.4, 1.05, 1.2, 2.1, 5.4, 7.7, 15.0, 6.4, na, 5.4, na, 3.1],
    [2.4, 2.7, 3.1, 1.4, 2.4, na, 5.7, 7.0, 2.1, 1.4, 2.7, na],
    [1.7, 1.4, 2.4, 3.1, 4.0, na, 5.0, 3.4, 1.4, 1.05, 0.7, na],
    [1.4, 1.05, na, 1.4, na, 2.4, 4.4, 2.7, na, 1.4, na, na],
    [1.7, na, 1.4, 2.7, 3.1, 3.7, 1.7, 2.4, 1.7, na, 1.4, na],
    [1.7, 1.4, na, 1.05, na, 2.4, 2.7, na, 6.7, 1.05, na, na],
]
gol_0 = [
    [na, na, na, na, na, 6, 39, 59, 41, 16, 18, 20],
    [24, 17, 31, 22, 25, 36, 17, 20, 14, 16, 18, 15],
    [30, 33, 41, 38, 28, 25, 28, 31, 22, 41, 25, 36],
    [36, 33, 54, 56, 36, 34, 19, 16, 16, 20, 11, 28],
    [16, 20, 11, 28, 43, 33, 41, 42, 43, 40, 42, 30],
    [30, 23, 17, 12, 28, 27, 31, 57, 35, 85, 93, 77],
    [22, 14, 23, 38, 46, 40, 27, 36, 39, 71, 38, 36],
    [23, 25, 30, 38, 50, 44, 39, 61, 38, 40, 41, 39],
    [11, 12, 31, 60, 39, 85, 47, 31, 33, 35, 33, 23],
    [25, 30, 34, 65, 23, 52, 46, 27, 20, 35, 30, 33],
    [30, 39, 34, 33, 47, 40, 31, 63, 57, 16, 20, 22],
    [15, 33, 16, 23, 30, 71, 58, 76, 65, 47, 40, 35],
    [16, 16, 36, 38, 82, 87, 60, 76, 45, 40, 30, 38],
    [25, 42, 28, 19, 49, 52, 40, 78, 65, 62, 48, 60],
]
gol_20 = [
    [na, na, na, na, na, na, na, 9.1, 5.6, 5.4, 5.5, 4.6],
    [6.1, 5.2, 4.0, 5.6, 5.2, 5.7, 4.8, 5.9, 9.9, 5.4, 4.3, 5.5],
    [3.5, 4.4, 5.1, 7.4, 7.8, 8.0, 4.6, 5.0, 5.2, 4.6, 5.1, 5.3],
    [5.5, 5.6, 5.0, 4.4, 5.5, 6.6, 6.1, 5.0, 4.8, 4.2, 3.4, 3.8],
    [3.6, 2.9, 3.4, 4.0, 5.1, 4.7, 5.2, 4.8, 7.1, 6.9, 5.5, 6.3],
    [4.4, 3.2, 3.9, 4.6, 4.2, 3.6, 4.6, 5.3, 5.9, 5.2, 4.8, 4.5],
    [4.2, 3.5, 3.7, 4.5, 5.2, 4.8, 4.6, 5.4, 4.2, 4.0, 3.9, 3.8],
    [3.8, 3.6, 3.5, 3.2, 5.4, 5.7, 5.0, 4.8, 4.6, 3.2, 3.4, 3.9],
    [3.8, 4.2, 5.0, 4.5, 5.9, 7.6, 5.5, 6.9, 4.7, 4.4, 4.2, 3.9],
    [3.9, 4.4, 4.7, 5.2, 5.4, 4.7, 4.9, 5.6, 5.0, 5.6, 5.4, 4.2],
    [4.2, 3.5, 4.8, 3.9, 4.2, 5.0, 6.8, 5.4, 4.6, 4.2, 4.8, 5.0],
    [4.9, 4.6, 4.8, 5.7, 6.8, 6.7, 6.1, 5.6, 5.1, 4.9, 4.8, 4.6],
    [4.6, 5.2, 5.2, 4.8, 5.4, 5.1, 4.2, 4.9, 4.6, 4.4, 4.0, 3.5],
    [4.2, 4.0, 3.9, 4.2, 4.8, 4.6, 4.4, 3.7, 6.4, 6.6, 5.4, 5.2],
]
gol_120 = [
    [na, na, na, na, na, na, 5.7, 6.0, 4.2, 3.3, 3.3, 2.3],
    [2.3, 1.4, 1.6, 2.6, 3.3, 3.5, 3.7, 5.1, 6.7, 3.3, 10.6, 3.7],
    [2.3, 2.6, 4.9, 3.7, 3.7, 6.3, 2.6, 8.8, 9.8, 3.7, 3.3, 4.0],
    [2.6, 3.0, 3.3, na, 3.7, 4.9, 4.7, 2.8, 1.4, 1.2, 2.1, na],
    [3.3, 3.7, 6.0, 3.7, 3.0, 3.3, na, 2.8, na, 1.4, 1.4, na],
    [1.4, 3.3, 3.7, 4.4, 3.3, na, 3.3, 2.6, 2.3, na, 1.4, na],
    [0.9, 3.7, 4.7, na, 3.5, na, 3.7, na, 3.3, na, na, na],
    [na, na, na, na, na, na, na, 4.2, na, na, na, na],
    [1.9, 1.4, 2.1, 2.8, 6.0, 10.0, 3.9, 3.7, 3.3, na, 2.6, na],
    [na, 2.8, 3.5, na, 4.7, 3.7, 3.3, 3.0, na, 2.3, na, na],
    [2.1, na, 2.1, na, 3.3, 3.7, 3.3, 2.3, na, 2.1, na, 2.3],
    [2.3, na, 4.2, 3.9, 3.7, 3.3, 3.5, na, 2.8, na, 2.3, na],
    [na, 1.9, 2.3, na, 3.7, 3.0, 2.6, na, 1.9, 2.3, 1.2, na],
    [1.6, na, 2.3, 2.6, 3.7, na, 3.5, 2.3, 2.1, 2.3, na, na],
]

# panel order: rows = sites, columns = shallow / middle / deep
series = [
    alt_0, alt_30, alt_140,
    aoe_0, aoe_30, aoe_120,
    bbr_0, bbr_20, bbr_60,
    ber_0, ber_30, ber_68,
    bod_0, bod_20, bod_120,
    din_0, din_30, din_120,
    ebe_0, ebe_30, ebe_100,
    ebr_0, ebr_20, ebr_120,
    flo_0, flo_20, flo_120,
    fre_0, fre_30, fre_140,
    gol_0, gol_20, gol_120,
]
sites = ["ALT", "AOE", "BBR", "BER", "BOD", "DIN", "EBE", "EBR", "FLO", "FRE", "GOL"]
depths = [
    0, 30, 140, 0, 30, 120, 0, 20, 60, 0, 30, 68, 0, 20, 120, 0, 30, 120,
    0, 30, 100, 0, 20, 120, 0, 20, 120, 0, 30, 140, 0, 20, 120,
]
p_ops = [
    "<", "=", "<", "<", "=", "<", "<", "<", "<", "<", "<", "=", "<", "<", "=", "=", "=", "<",
    "<", "=", "<", "<", "=", "=", "<", "<", "<", "<", "<", "<", "<", "=", "<",
]
p_vals = [
    "0.01", "0.34", "0.2", "0.01", "0.62", "0.05", "0.1", "0.05", "0.05",
    "0.01", "0.2", "0.33", "0.05", "0.05", "0.62", "0.26", "0.52", "0.01",
    "0.01", "0.22", "0.05", "0.2", "0.41", "0.40", "0.01", "0.2", "0.01",
    "0.05", "0.2", "0.01", "0.01", "0.31", "0.01",
]
trends = [
    2.50, -0.09, 0.07, 3.07, 0.03, -0.19, 0.76, 0.05, 0.09, 0.47, -0.10, -0.14,
    2.88, 1.25, -0.03, 0.68, -0.04, -0.28, 2.10, -0.17, -0.17, 1.36, 0.30, -0.33,
    1.24, -0.05, -0.20, 1.66, -0.09, -0.13, 1.47, -0.04, -0.08,
]
# fitted line value at first and last sample
trend_ends = [
    (37, 71), (6.7, 6.1), (3.3, 4.3), (26, 68), (5.0, 5.5), (4.6, 1.9),
    (24, 34), (1.38, 1.88), (1.65, 2.52), (11, 17.5), (6.1, 4.75), (5.0, 3.05),
    (51, 86), (14.8, 29.6), (2.4, 2.0), (59, 69), (6.3, 5.8), (8.5, 4.8),
    (33.5, 61), (8.6, 6.3), (4.6, 2.3), (29.5, 48), (20.3, 24), (10.8, 6.6),
    (22.5, 39), (3.45, 2.65), (5.3, 2.6), (27, 49), (3.6, 2.4), (3.4, 1.6),
    (23.5, 43.5), (4.95, 4.5), (3.45, 2.3),
]
ylims = [
    (-15.6, 229.6), (-1.6, 27.1), (-2.3, 33.5),
    (-8.5, 156), (-2, 29.4), (-2.25, 34.7),
    (-9.7, 163.5), (-0.2, 3.23), (-0.31, 5.28),
    (-2.4, 40.2), (-0.9, 12.8), (-0.6, 9.9),
    (-17.5, 263), (-2.8, 46.5), (-2.4, 36),
    (-18, 247), (-1.1, 14.5), (-2.4, 35.6),
    (-8, 126.3), (-3.8, 50.6), (-1.3, 17.1),
    (-9.8, 139.5), (-3.8, 61), (-2.1, 29.7),
    (-5.8, 87.3), (-0.9, 12.6), (-1.1, 14.3),
    (-8.5, 134.5), (-1.75, 23.2), (-0.93, 16.1),
    (-6, 98.7), (-0.65, 10.6), (-0.7, 11.3),
]
yticks_top = [
    (200, 50), (25, 5), (30, 10), (150, 50), (25, 5), (30, 10),
    (150, 50), (3.0, 0.5), (5, 1), (30, 10), (12, 2), (8, 2),
    (250, 50), (40, 10), (30, 10), (200, 50), (10, 5), (30, 10),
    (120, 20), (40, 10), (15, 5), (100, 50), (60, 10), (25, 5),
    (80, 20), (12, 2), (10, 5), (100, 50), (20, 5), (15, 5),
    (80, 20), (10, 2), (10, 2),
]

W, H = 1068, 1543
col_left = [88, 426.7, 780.7]
col_width = [291, 290.6, 287]
ax_h = 110
strip_h = 24.4


def to_xy(rows):
    xs, ys = [], []
    for r, row in enumerate(rows):
        for m, v in enumerate(row):
            xs.append(FIRST_YEAR + r + m / 12.0)
            ys.append(v)
    return np.array(xs), np.array(ys, dtype=float)


def draw():
    fig = plt.figure(figsize=(W / 100, H / 100), dpi=100)

    for k, rows in enumerate(series):
        r, c = divmod(k, 3)
        top = 33.4 + 134.4 * r
        left = col_left[c]
        wd = col_width[c]

        ax = fig.add_axes([left / W, 1 - (top + ax_h) / H, wd / W, ax_h / H])
        x, y = to_xy(rows)
        ok = ~np.isnan(y)
        ax.scatter(x[ok], y[ok], s=19, color="#111111", edgecolors="none", zorder=3)

        y0, y1 = trend_ends[k]
        ax.plot([x[ok][0], x[ok][-1]], [y0, y1], color="black", linewidth=1.0, zorder=2)

        ax.set_xlim(1993.95, 2009.9)
        ax.set_ylim(*ylims[k])
        tmax, step = yticks_top[k]
        ax.set_yticks(np.arange(0, tmax + step / 2, step))
        ax.tick_params(axis="y", direction="in", length=5, width=0.9,
                       labelsize=13.5, pad=5)
        if r == 10:
            ax.set_xticks([1996, 1998, 2000, 2002, 2004, 2006, 2008])
            ax.set_xticklabels(["1996", "", "2000", "", "2004", "", "2008"])
            ax.tick_params(axis="x", direction="in", length=4.5, width=0.9,
                           labelsize=13.5, pad=6)
        else:
            ax.set_xticks([])
        for sp in ax.spines.values():
            sp.set_linewidth(1.0)

        # title strip
        sax = fig.add_axes([left / W, 1 - top / H, wd / W, strip_h / H])
        sax.set_xticks([])
        sax.set_yticks([])
        for sp in sax.spines.values():
            sp.set_linewidth(1.0)
        tr = trends[k]
        tr_txt = ("\u2013%.2f" % abs(tr)) if tr < 0 else "%.2f" % tr
        title = "%s %d cm, $P$%s%s, trend = %s mg L$^{-1}$ yr$^{-1}$" % (
            sites[r], depths[k], " " + p_ops[k] + " ", p_vals[k], tr_txt)
        sax.text(0.5, 0.45, title, ha="center", va="center", fontsize=8.8,
                 transform=sax.transAxes)

    fig.text(25 / W, 1 - 760 / H, "DOC (mg L$^{-1}$)", rotation=90,
             ha="center", va="center", fontsize=16.5)
    fig.text(580 / W, 1 - 1532 / H, "Year", ha="center", va="center", fontsize=15)

    fig.savefig("out.png", dpi=100)


draw()
